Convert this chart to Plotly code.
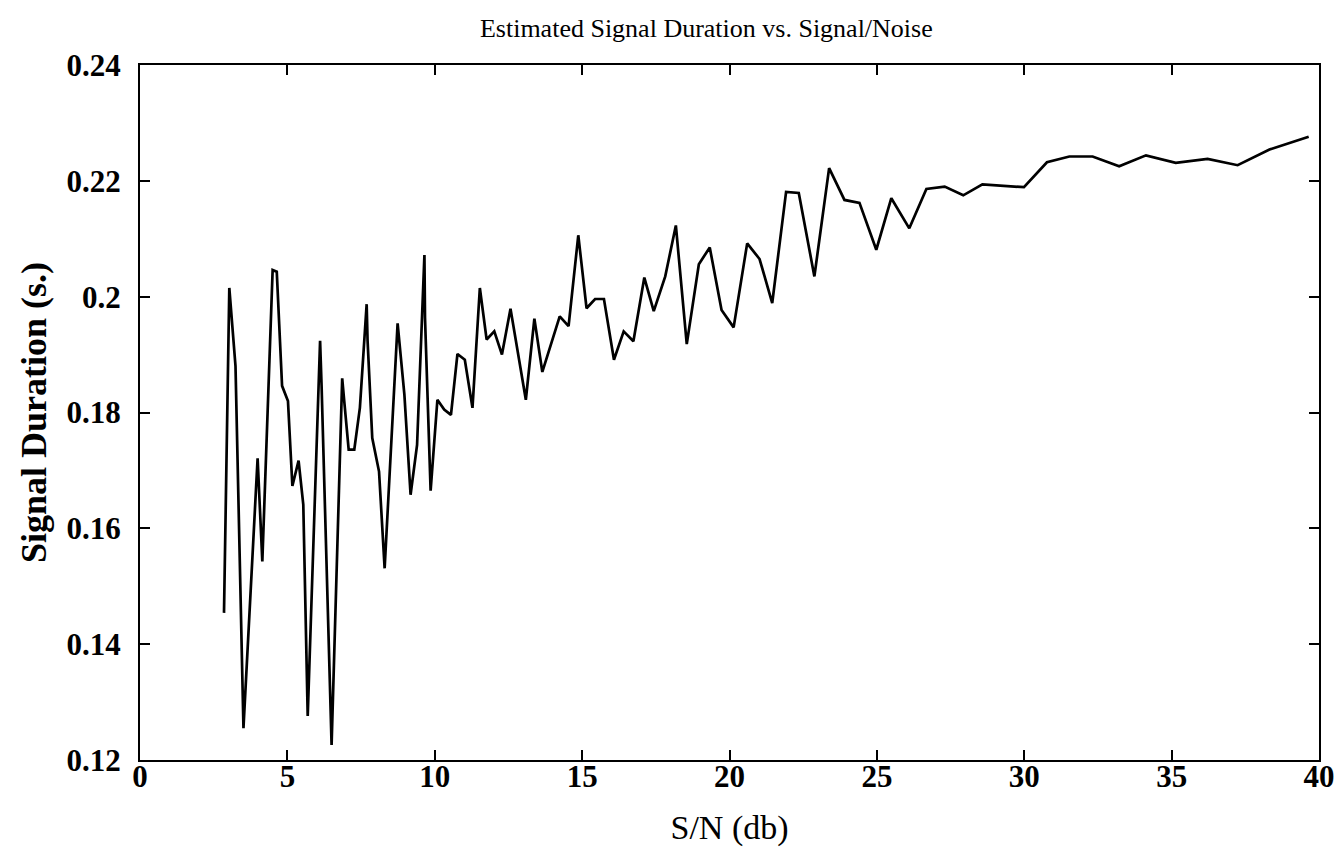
import plotly.graph_objects as go

# S/N in dB (x) and estimated signal duration in seconds (y)
sn_db = [2.85, 3.03, 3.24, 3.51, 3.99, 4.15, 4.50, 4.64, 4.82, 5.02, 5.17, 5.38, 5.54, 5.69,
         6.11, 6.16, 6.50, 6.86, 6.92, 7.08, 7.27, 7.46, 7.69, 7.72, 7.88, 8.11, 8.30, 8.74,
         8.97, 9.18, 9.40, 9.65, 9.67, 9.86, 10.09, 10.32, 10.55, 10.77, 11.02, 11.28, 11.53,
         11.76, 12.02, 12.28, 12.57, 13.09, 13.38, 13.65, 14.24, 14.54, 14.87, 15.15, 15.44,
         15.74, 16.08, 16.41, 16.74, 17.11, 17.43, 17.82, 18.18, 18.55, 18.96, 19.33, 19.73,
         20.14, 20.60, 21.02, 21.45, 21.92, 22.35, 22.59, 22.88, 23.38, 23.90, 24.41, 24.98,
         25.49, 26.10, 26.68, 27.30, 27.93, 28.58, 29.99, 30.77, 31.53, 32.32, 33.22, 34.13,
         35.14, 36.22, 37.24, 38.32, 39.65]

duration_s = [0.1454, 0.2015, 0.1880, 0.1255, 0.1721, 0.1543, 0.2046, 0.2043, 0.1846, 0.1820,
              0.1673, 0.1717, 0.1641, 0.1276, 0.1924, 0.1847, 0.1226, 0.1859, 0.1825, 0.1736,
              0.1736, 0.1808, 0.1987, 0.1925, 0.1756, 0.1698, 0.1531, 0.1954, 0.1831, 0.1658,
              0.1744, 0.2072, 0.1963, 0.1665, 0.1822, 0.1805, 0.1796, 0.1901, 0.1891, 0.1808,
              0.2015, 0.1926, 0.1940, 0.1900, 0.1979, 0.1822, 0.1962, 0.1870, 0.1966, 0.1949,
              0.2106, 0.1980, 0.1996, 0.1996, 0.1891, 0.1940, 0.1923, 0.2033, 0.1975, 0.2035,
              0.2123, 0.1918, 0.2056, 0.2085, 0.1977, 0.1947, 0.2092, 0.2065, 0.1989, 0.2181,
              0.2179, 0.2113, 0.2035, 0.2222, 0.2167, 0.2162, 0.2081, 0.2170, 0.2118, 0.2186,
              0.2190, 0.2175, 0.2194, 0.2189, 0.2232, 0.2242, 0.2242, 0.2225, 0.2244, 0.2231,
              0.2238, 0.2227, 0.2254, 0.2276]

x_ticks = [0, 5, 10, 15, 20, 25, 30, 35, 40]
x_tick_labels = ["0", "5", "10", "15", "20", "25", "30", "35", "40"]
y_ticks = [0.12, 0.14, 0.16, 0.18, 0.20, 0.22, 0.24]
y_tick_labels = ["0.12", "0.14", "0.16", "0.18", "0.2", "0.22", "0.24"]

title_text = "Estimated Signal Duration vs. Signal/Noise"
x_title = "S/N (db)"
y_title = "Signal Duration (s.)"

serif = "Liberation Serif, Times New Roman, serif"

fig = go.Figure()
fig.add_trace(go.Scatter(x=sn_db, y=duration_s, mode="lines",
                         line=dict(color="black", width=2.7), showlegend=False))

fig.update_layout(
    width=1343, height=862,
    margin=dict(l=132, r=32, t=57, b=110),
    paper_bgcolor="white", plot_bgcolor="white",
    title=dict(text=title_text, x=0.52, xanchor="center", y=0.977, yanchor="middle",
               font=dict(family=serif, size=26, color="black")),
    font=dict(family=serif, color="black"),
)

fig.update_xaxes(
    range=[0, 40], tickvals=x_ticks, ticktext=x_tick_labels,
    ticks="inside", ticklen=10, tickwidth=1.5, tickcolor="black",
    showline=True, linecolor="black", linewidth=2, mirror="ticks",
    showgrid=False, zeroline=False,
    ticklabelstandoff=-12,
    tickfont=dict(family=serif, size=31, color="black", weight="bold"),
    title=dict(text=x_title, font=dict(family=serif, size=34, color="black"), standoff=22),
)
fig.update_yaxes(
    range=[0.12, 0.24], tickvals=y_ticks, ticktext=y_tick_labels,
    ticks="inside", ticklen=10, tickwidth=1.5, tickcolor="black",
    showline=True, linecolor="black", linewidth=2, mirror="ticks",
    showgrid=False, zeroline=False,
    ticklabelstandoff=11,
    tickfont=dict(family=serif, size=31, color="black", weight="bold"),
    title=dict(text=y_title, font=dict(family=serif, size=36, color="black", weight="bold"),
               standoff=9),
)

fig.write_html("out.html")
